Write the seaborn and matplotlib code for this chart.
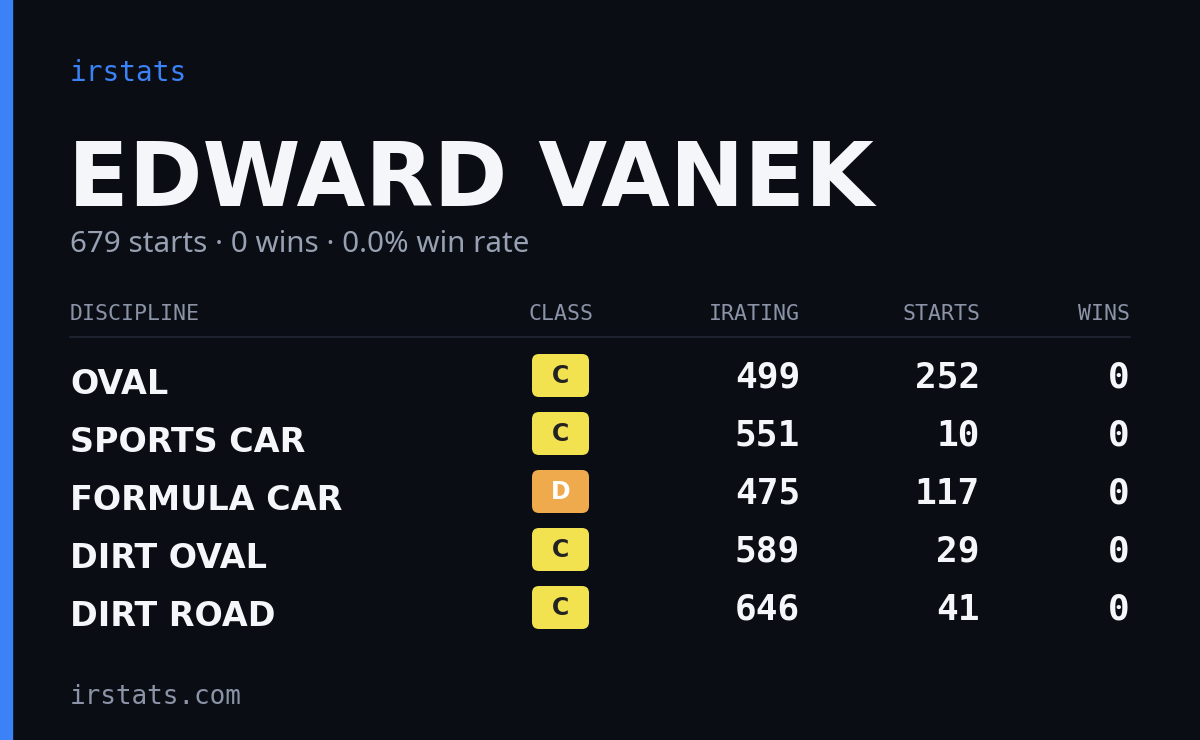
import matplotlib
matplotlib.use("Agg")
import matplotlib.pyplot as plt
import seaborn as sns
from matplotlib.patches import FancyBboxPatch, Rectangle

name = "EDWARD VANEK"
subtitle = "679 starts · 0 wins · 0.0% win rate"
headers = ["DISCIPLINE", "CLASS", "IRATING", "STARTS", "WINS"]
disciplines = ["OVAL", "SPORTS CAR", "FORMULA CAR", "DIRT OVAL", "DIRT ROAD"]
classes = ["C", "C", "D", "C", "C"]
iratings = [499, 551, 475, 589, 646]
starts = [252, 10, 117, 29, 41]
wins = [0, 0, 0, 0, 0]
class_colors = {"C": "#f2e250", "D": "#f0aa4e"}

sns.set_theme(style="white")
bg = "#0a0d14"
narrow = ["Liberation Sans Narrow", "DejaVu Sans"]
fig = plt.figure(figsize=(12, 7.4), dpi=100, facecolor=bg)
ax = fig.add_axes([0, 0, 1, 1])
ax.set_facecolor(bg)
ax.set_xlim(0, 1200)
ax.set_ylim(740, 0)
ax.axis("off")

ax.add_patch(Rectangle((0, 0), 12, 740, color="#3b82f6"))
mono = "DejaVu Sans Mono"
ax.text(70, 73, "irstats", color="#3b82f6", fontsize=20, family=mono, va="center")
ax.text(68, 182, name, color="#f5f6fa", fontsize=64, family=narrow,
        fontweight="bold", va="center")
ax.text(70, 245, subtitle, color="#98a1b3", fontsize=21.3, family="Noto Sans", va="center")

hx = [70, 593, 800, 980, 1130]
ha = ["left", "right", "right", "right", "right"]
for x, h, a in zip(hx, headers, ha):
    ax.text(x, 314, h, color="#8b93a7", fontsize=15.5, family=mono, ha=a, va="center")
ax.plot([70, 1130], [337, 337], color="#1e2330", lw=1.5)

for i, d in enumerate(disciplines):
    y = 380 + 58 * i
    ax.text(70, y + 5, d, color="#f5f6fa", fontsize=24, family=narrow,
            fontweight="bold", va="center")
    ax.add_patch(FancyBboxPatch((532, y - 26), 57, 43, boxstyle="round,pad=0,rounding_size=7",
                                color=class_colors[classes[i]], lw=0))
    ax.text(560.5, y - 4, classes[i], color="#222222" if classes[i] == "C" else "#ffffff",
            fontsize=17, fontweight="bold", family="DejaVu Sans", ha="center", va="center")
    for x, v in zip([800, 980, 1130], [iratings[i], starts[i], wins[i]]):
        ax.text(x, y - 2, str(v), color="#f5f6fa", fontsize=26, family=mono,
                fontweight="bold", ha="right", va="center")

ax.text(70, 697, "irstats.com", color="#8b93a7", fontsize=18.7, family=mono, va="center")
fig.savefig("out.png", dpi=100, facecolor=bg)
